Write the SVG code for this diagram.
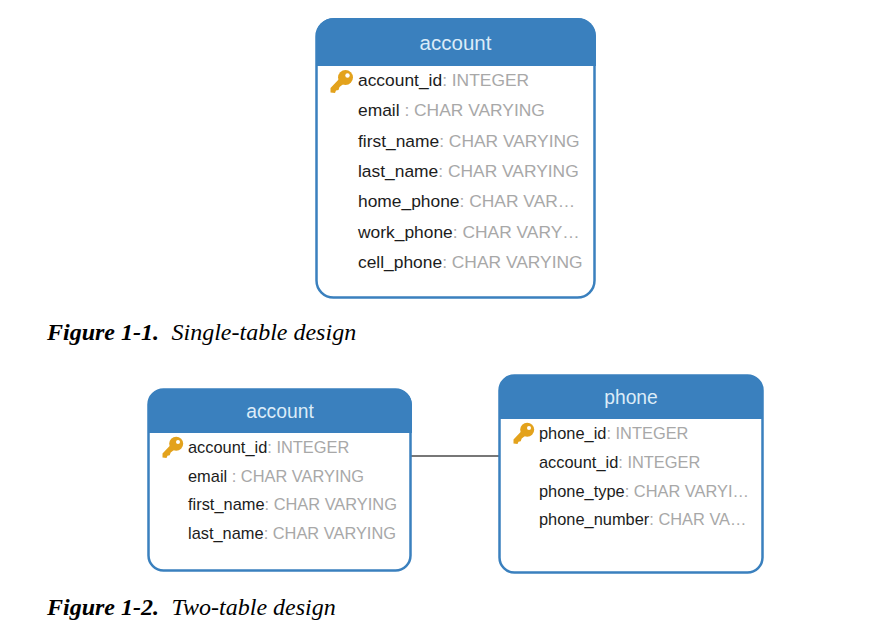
<svg xmlns="http://www.w3.org/2000/svg" width="884" height="629" viewBox="0 0 884 629">
<style>
.box{fill:#fff;stroke:#3a80be;stroke-width:2.5}
.hd{fill:#3a80be}
.t{font-family:"Liberation Sans",Arial,sans-serif;font-size:20.500px;fill:#dcecf8;text-anchor:middle}
.t2{font-size:19.300px}
.f{font-family:"Liberation Sans",Arial,sans-serif;fill:#a8a8a8}
.f1{font-size:17.400px}
.f2{font-size:16.400px}
.n{fill:#1c1c1c}
.cap{font-family:"Liberation Serif","DejaVu Serif",serif;font-size:24px;font-style:italic;fill:#000}
.b{font-weight:bold}
.key{fill:#e3a21c}
</style>
<defs>
<g id="k">
<circle cx="4.500" cy="-4.500" r="7.500" class="key"/>
<circle cx="6.500" cy="-6.500" r="2.200" fill="#fff"/>
<path d="M0-5L-10.500 6-10.500 10.500-6 11-5 8.500-2.500 8-1.500 5 5 0Z" class="key"/>
</g>
<g id="k2">
<circle cx="4.200" cy="-4.200" r="7" class="key"/>
<circle cx="6" cy="-6" r="2" fill="#fff"/>
<path d="M0-4.600L-9.500 5.500-9.500 9.500-5.500 10-4.500 7.700-2.300 7.300-1.300 4.600 4.600 0Z" class="key"/>
</g>
</defs>
<g id="connectors">
<line x1="411" y1="456" x2="499" y2="456" stroke="#777" stroke-width="2"/>
</g>
<g id="account-1">
<rect x="316.500" y="19.500" width="278" height="278" rx="17" class="box"/>
<path d="M316 66V36a18 18 0 0 1 18-18H578a18 18 0 0 1 18 18V66Z" class="hd"/>
<text x="455.500" y="50" class="t">account</text>
<use href="#k" x="341" y="82"/>
<text x="358" y="86" class="f f1"><tspan class="n">account_id</tspan>: INTEGER</text>
<text x="358" y="116" class="f f1"><tspan class="n">email</tspan> : CHAR VARYING</text>
<text x="358" y="147" class="f f1"><tspan class="n">first_name</tspan>: CHAR VARYING</text>
<text x="358" y="177" class="f f1"><tspan class="n">last_name</tspan>: CHAR VARYING</text>
<text x="358" y="207" class="f f1"><tspan class="n">home_phone</tspan>: CHAR VAR…</text>
<text x="358" y="238" class="f f1"><tspan class="n">work_phone</tspan>: CHAR VARY…</text>
<text x="358" y="268" class="f f1"><tspan class="n">cell_phone</tspan>: CHAR VARYING</text>
</g>
<text id="caption-1" x="47" y="340" class="cap"><tspan class="b">Figure 1-1.</tspan><tspan x="171.500">Single-table design</tspan></text>
<g id="account-2">
<rect x="148.500" y="389.500" width="262" height="181" rx="15" class="box"/>
<path d="M148 433V405a16 16 0 0 1 16-16H396a16 16 0 0 1 16 16V433Z" class="hd"/>
<text x="280" y="418" class="t t2">account</text>
<use href="#k2" x="172" y="448"/>
<text x="188" y="453" class="f f2"><tspan class="n">account_id</tspan>: INTEGER</text>
<text x="188" y="482" class="f f2"><tspan class="n">email</tspan> : CHAR VARYING</text>
<text x="188" y="510" class="f f2"><tspan class="n">first_name</tspan>: CHAR VARYING</text>
<text x="188" y="539" class="f f2"><tspan class="n">last_name</tspan>: CHAR VARYING</text>
</g>
<g id="phone">
<rect x="499.500" y="375.500" width="263" height="197" rx="15" class="box"/>
<path d="M499 419V391a16 16 0 0 1 16-16H747a16 16 0 0 1 16 16V419Z" class="hd"/>
<text x="631" y="404" class="t t2">phone</text>
<use href="#k2" x="523" y="434"/>
<text x="539" y="439" class="f f2"><tspan class="n">phone_id</tspan>: INTEGER</text>
<text x="539" y="468" class="f f2"><tspan class="n">account_id</tspan>: INTEGER</text>
<text x="539" y="497" class="f f2"><tspan class="n">phone_type</tspan>: CHAR VARYI…</text>
<text x="539" y="525" class="f f2"><tspan class="n">phone_number</tspan>: CHAR VA…</text>
</g>
<text id="caption-2" x="47" y="615" class="cap"><tspan class="b">Figure 1-2.</tspan><tspan x="171.500">Two-table design</tspan></text>
</svg>
